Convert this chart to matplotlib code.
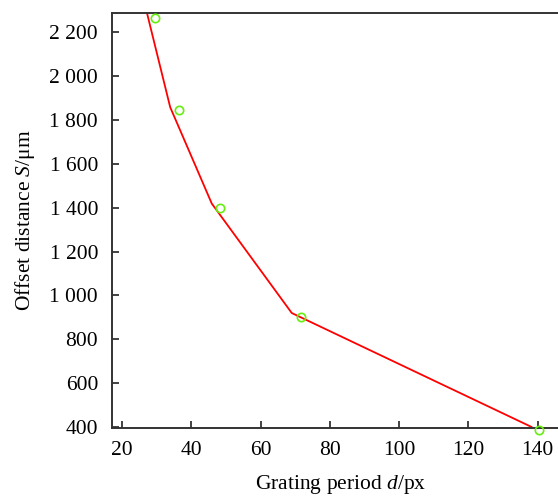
import matplotlib
matplotlib.use("Agg")
import matplotlib.pyplot as plt
from matplotlib.ticker import FuncFormatter

plt.rcParams['font.family'] = ['Liberation Serif', 'DejaVu Serif']
plt.rcParams['mathtext.fontset'] = 'custom'
plt.rcParams['mathtext.rm'] = 'Liberation Serif'
plt.rcParams['mathtext.it'] = 'Liberation Serif:italic'

# measured points
meas_d = [29.5, 36.5, 48.3, 71.7, 140.4]
meas_S = [2264, 1843, 1400, 904, 388]
# fitted curve
fit_d = [27.0, 33.9, 45.9, 69.0, 138.2]
fit_S = [2300, 1858, 1419, 920, 401]

x_ticks = [20, 40, 60, 80, 100, 120, 140]
y_ticks = [400, 600, 800, 1000, 1200, 1400, 1600, 1800, 2000, 2200]

fig = plt.figure(figsize=(5.58, 4.97), dpi=100)
ax = fig.add_axes([0.2007, 0.1388, 0.82, 0.835])

ax.plot(fit_d, fit_S, color='#ff0000', lw=1.3, zorder=2)
ax.plot(meas_d, meas_S, 'o', mfc='none', mec='#66ee11', mew=1.2, ms=6, zorder=3, clip_on=False)

ax.set_xlim(17.1, 149.2)
ax.set_ylim(396, 2287)
ax.set_xticks(x_ticks)
ax.set_yticks(y_ticks)

def fmt(v, pos):
    v = int(round(v))
    if v >= 1000:
        return f"{v // 1000} {v % 1000:03d}"
    return str(v)

ax.yaxis.set_major_formatter(FuncFormatter(fmt))
ax.tick_params(direction='in', length=5, width=1.2, labelsize=15.5, colors='#222222',
               labelcolor='black')
ax.tick_params(axis='y', pad=10)
ax.tick_params(axis='x', pad=9.5)
for s in ['left', 'bottom', 'top']:
    ax.spines[s].set_linewidth(1.4)
    ax.spines[s].set_color('#333333')
ax.spines['right'].set_visible(False)

ax.set_xlabel('Grating period $d$/px', fontsize=15.5, labelpad=9)
ax.set_ylabel('Offset distance $S$/μm', fontsize=15.5, labelpad=9)

fig.savefig('out.png', dpi=100)
